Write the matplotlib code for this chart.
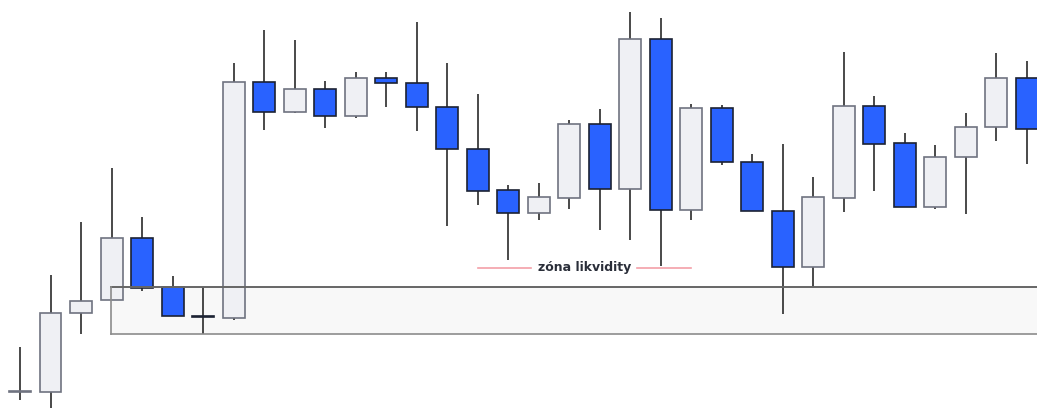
import matplotlib.pyplot as plt
from matplotlib.patches import Rectangle

# candle data (price units)
opens  = [16, 16, 95, 108, 170, 121, 91.5, 90, 326, 296, 319, 292, 330, 325, 301, 259, 218,
          195, 210, 284, 219, 369, 198, 300, 246, 197, 141, 210, 302, 265, 201, 251, 281, 330]
closes = [16, 95, 107, 170, 120, 92, 91, 326, 296, 319, 292, 330, 325, 301, 259, 217, 195,
          211, 284, 219, 369, 198, 300, 246, 197, 141, 211, 302, 264, 201, 251, 281, 330, 279]
highs  = [61, 133, 186, 240, 191, 132, 121, 345, 378, 368, 327, 336, 336, 386, 345, 314, 223,
          225, 288, 299, 396, 390, 304, 303, 254, 264, 231, 356, 312, 275, 263, 295, 355, 347]
lows   = [8, -5, 74, 108, 117, 92, 74, 88, 278, 295, 280, 290, 301, 277, 182, 203, 148,
          188, 199, 178, 168, 142, 188, 243, 197, 94, 121, 196, 217, 201, 199, 194, 267, 244]

zone_start = 3          # candle index where the liquidity zone begins
zone_top, zone_bottom = 121, 74
liq_level = 140
liq_label = "zóna likvidity"

BLUE = '#2962ff'
LIGHT = '#eff0f4'

fig = plt.figure(figsize=(10.37, 4.08), dpi=100)
ax = fig.add_axes([0, 0, 1, 1])
ax.set_xlim(-0.656, 33.34)
ax.set_ylim(0, 408)
ax.axis('off')

w = 0.72
for i, (o, c, h, l) in enumerate(zip(opens, closes, highs, lows)):
    up = c >= o
    ax.plot([i, i], [l, h], color='#3a3a3a', lw=1.3, zorder=2, solid_capstyle='butt')
    bottom = min(o, c)
    height = max(abs(c - o), 1.5)
    ax.add_patch(Rectangle((i - w / 2, bottom), w, height,
                           facecolor=LIGHT if up else BLUE,
                           edgecolor='#6f7380' if up else '#1c2233',
                           lw=1.2, zorder=3))

# liquidity zone box
x0 = zone_start - 0.02
ax.add_patch(Rectangle((x0, zone_bottom), 40, zone_top - zone_bottom,
                       facecolor='#f8f8f8', edgecolor='none', zorder=1))
ax.plot([x0, 40], [zone_top, zone_top], color='#666666', lw=1.4, zorder=4)
ax.plot([x0, 40], [zone_bottom, zone_bottom], color='#8c8c8c', lw=1.2, zorder=4)
ax.plot([x0, x0], [zone_bottom, zone_top], color='#8c8c8c', lw=1.2, zorder=4)

# liquidity label with red lines
ax.plot([15.0, 16.75], [liq_level, liq_level], color='#f4a0a8', lw=1.2, zorder=4)
ax.plot([20.23, 22.0], [liq_level, liq_level], color='#f4a0a8', lw=1.2, zorder=4)
ax.text(18.5, liq_level, liq_label, ha='center', va='center', fontsize=9,
        fontweight='bold', color='#2a2e39', zorder=5)

fig.savefig('out.png', dpi=100)
